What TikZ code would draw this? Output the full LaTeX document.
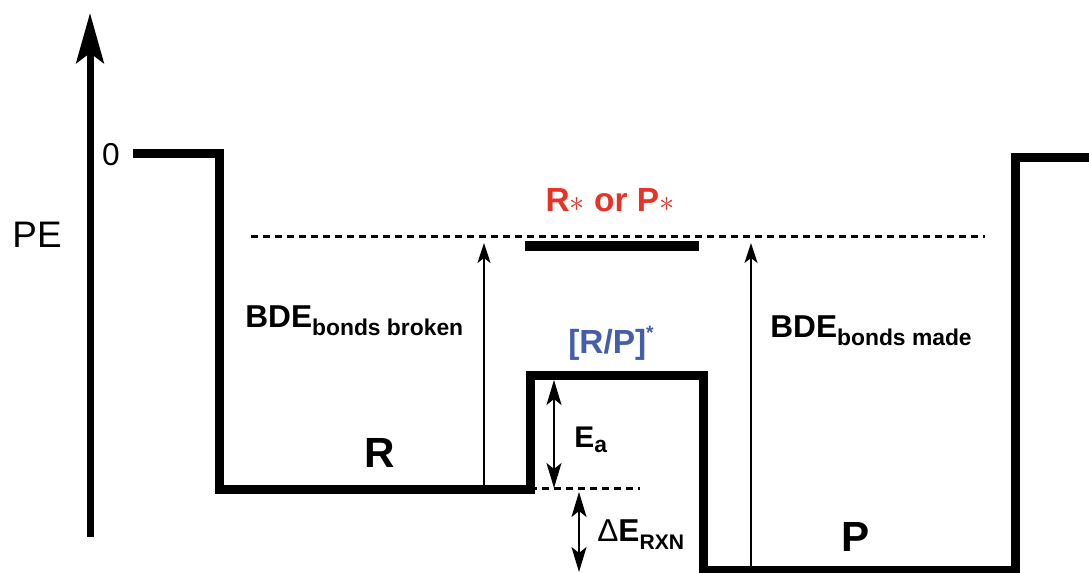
\documentclass[tikz,border=0pt]{standalone}
\usepackage{fontspec}
\setmainfont{Liberation Sans}
\usetikzlibrary{arrows.meta}

\definecolor{starred}{RGB}{233,50,38}
\definecolor{tsblue}{RGB}{68,94,170}
\newcommand{\fs}[1]{\fontsize{#1}{#1}\selectfont}

\begin{document}
\begin{tikzpicture}[
  wellline/.style={line width=0.18cm},
  guide/.style={line width=0.06cm, dash pattern=on 0.14cm off 0.1cm},
  bdearrow/.style={line width=0.04cm, -{Stealth[length=0.4cm,width=0.26cm,inset=0.1cm]}},
  gaparrow/.style={line width=0.04cm, {Stealth[length=0.5cm,width=0.3cm,inset=0.12cm]}-{Stealth[length=0.5cm,width=0.3cm,inset=0.12cm]}},
  lbl/.style={font=\bfseries\fs{18}, inner sep=0pt},
]
\useasboundingbox (0,0) rectangle (21.78,11.46);

% energy axis
\coordinate (axisfoot) at (1.8,0.72);
\coordinate (axistip) at (1.8,11.2);
\draw[line width=0.14cm, -{Stealth[length=1cm,width=0.55cm,inset=0.2cm]}] (axisfoot) -- (axistip);
\node[font=\fs{18}] (zero) at (2.22,8.36) {0};
\node[font=\fs{21}] (pe) at (0.74,6.76) {PE};

% the potential energy well
\draw[wellline] (2.66,8.38) -- (4.38,8.38) -- (4.38,1.66) -- (10.6,1.66) -- (10.6,3.94)
  -- (14.06,3.94) -- (14.06,0.04) -- (20.3,0.04) -- (20.3,8.3) -- (21.9,8.3);

% excited level
\draw[guide] (5.02,6.72) -- (19.7,6.72);
\draw[line width=0.2cm] (10.5,6.54) -- (13.98,6.54);
\node[lbl, text=starred, font=\bfseries\fs{19}] (excited) at (12.2,7.46) {R{\fs{16}$\ast$} or P{\fs{16}$\ast$}};

% bond dissociation energies
\coordinate (rfoot) at (9.68,1.66);
\coordinate (rtop) at (9.68,6.6);
\coordinate (pfoot) at (15.02,0.04);
\coordinate (ptop) at (15.02,6.6);
\draw[bdearrow] (rfoot) -- (rtop);
\draw[bdearrow] (pfoot) -- (ptop);
\node[lbl, anchor=west] (broken) at (4.9,5.04) {BDE\raisebox{-4.5pt}{\fs{13}bonds broken}};
\node[lbl, anchor=west] (made) at (15.4,4.84) {BDE\raisebox{-4.5pt}{\fs{13}bonds made}};

% transition state
\node[lbl, text=tsblue, font=\bfseries\fs{19}] (ts) at (12.22,4.6) {[R/P]\raisebox{8pt}{\fs{11}*}};

% activation and reaction energies
\draw[guide] (10.6,1.68) -- (12.8,1.68);
\coordinate (eatop) at (11.08,3.86);
\coordinate (eabot) at (11.08,1.7);
\coordinate (dhtop) at (11.58,1.62);
\coordinate (dhbot) at (11.58,0.02);
\draw[gaparrow] (eabot) -- (eatop);
\draw[gaparrow] (dhtop) -- (dhbot);
\node[lbl, anchor=west, font=\bfseries\fs{17}] (ea) at (11.48,2.66) {E\raisebox{-2.8pt}{\fs{13}a}};
\node[lbl, anchor=west, font=\bfseries\fs{18}] (dh) at (11.94,0.76) {{\mdseries Δ}E\raisebox{-4.5pt}{\fs{12}RXN}};

% reactant and product
\node[font=\bfseries\fs{24}] (rlab) at (7.6,2.4) {R};
\node[font=\bfseries\fs{24}] (plab) at (17.12,0.72) {P};

\end{tikzpicture}
\end{document}
